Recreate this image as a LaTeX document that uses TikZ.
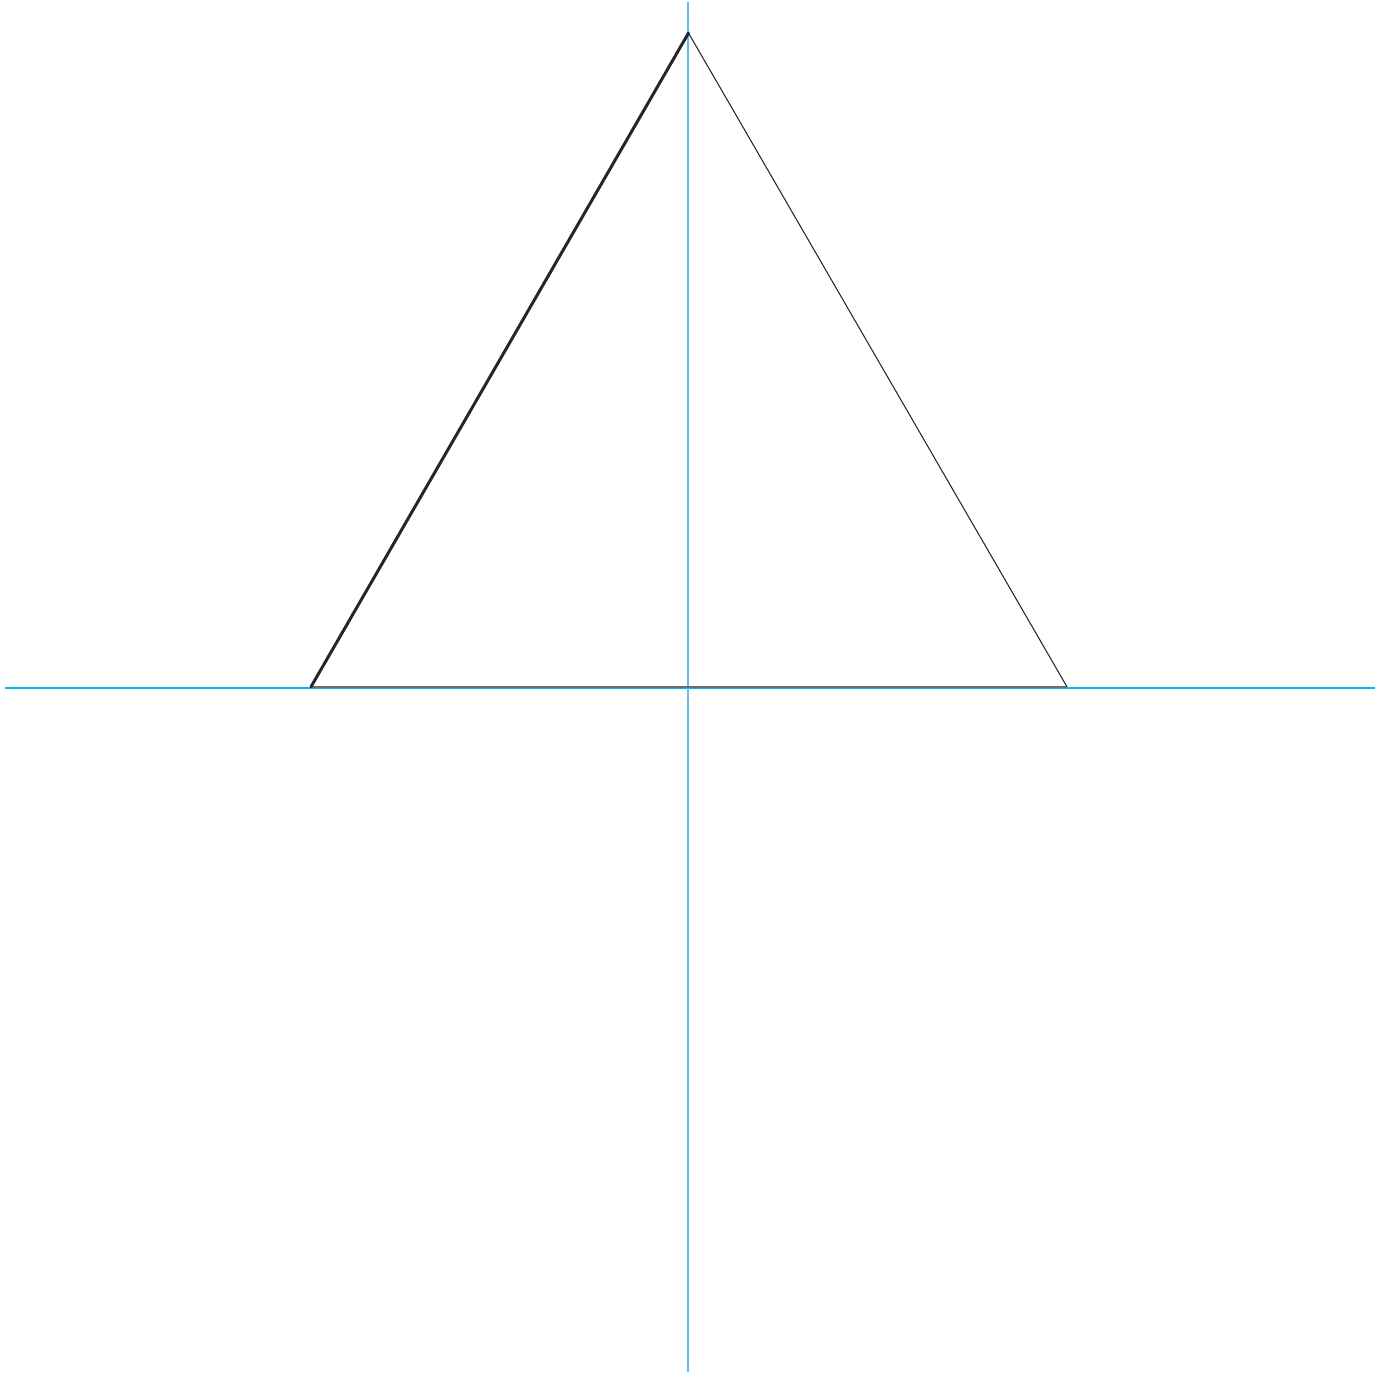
\documentclass[tikz,border=0pt]{standalone}
\usetikzlibrary{calc}
\definecolor{axiscyan}{RGB}{0,185,245}
\definecolor{axisblue}{RGB}{95,190,235}
\definecolor{edgegray}{RGB}{110,110,110}

\begin{document}
\begin{tikzpicture}
    % page frame
    \useasboundingbox (-6.88,-6.85) rectangle (6.95,6.88);

    % axes
    \coordinate (xmin) at (-6.83,0);
    \coordinate (xmax) at (6.87,0);
    \coordinate (ymin) at (0,-6.84);
    \coordinate (ymax) at (0,6.86);
    \draw[axiscyan,line width=0.45pt] (xmin) -- (xmax);
    \draw[axisblue,line width=0.4pt] (ymin) -- (ymax);

    % triangle
    \coordinate (apex) at (0.005,6.55);
    \coordinate (left) at (-3.77,0.012);
    \coordinate (right) at (3.79,0.012);
    \draw[edgegray,line width=0.55pt] (left) -- (right);
    \draw[black!85,line width=0.85pt,line cap=round] (left) -- (apex);
    \draw[black!85,line width=0.3pt] (apex) -- (right);
\end{tikzpicture}
\end{document}
